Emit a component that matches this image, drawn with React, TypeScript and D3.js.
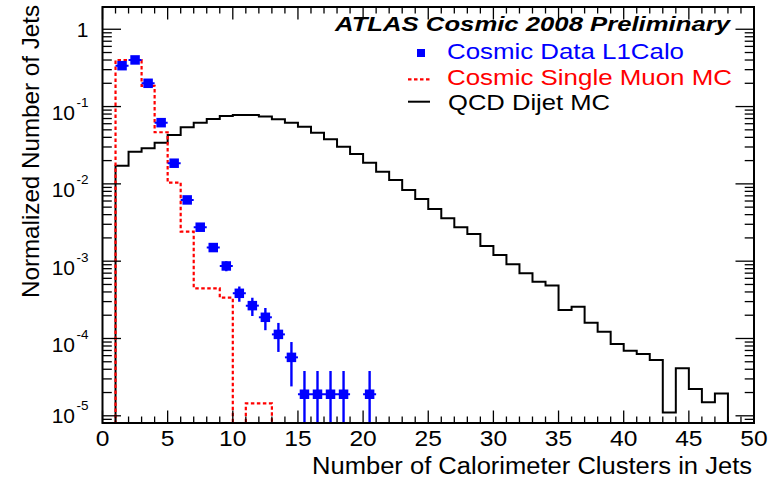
import React from "react";
import * as d3 from "d3";

const WIDTH = 783;
const HEIGHT = 481;
const FONT = "'Liberation Sans', Arial, Helvetica, sans-serif";

// Bin low edges are integers 0..49, each bin one cluster wide.
// QCD dijet MC, normalized entries per bin [i, i+1)
const qcdDijetMC = [
  0, 0.0172, 0.0261, 0.0289, 0.0341, 0.0429, 0.054, 0.0619, 0.0691, 0.0756,
  0.0779, 0.0779, 0.0745, 0.0685, 0.0619, 0.055, 0.046, 0.0378, 0.0303, 0.0244,
  0.0188, 0.0143, 0.0112, 0.00834, 0.00638, 0.00473, 0.00359, 0.00275, 0.00225, 0.00157,
  0.0012, 0.000912, 0.000697, 0.000543, 0.000485, 0.000234, 0.000258, 0.00016, 0.000122, 8.5e-5,
  6.95e-5, 6.3e-5, 5.27e-5, 1.1e-5, 4.11e-5, 2.22e-5, 1.5e-5, 1.95e-5, 0, 0,
];

// Cosmic single muon MC, bins [0,1) .. [13,14); empty beyond
const singleMuonMC = [
  0, 0.4, 0.4, 0.185, 0.0465, 0.0104, 0.00241, 0.000446, 0.000446, 0.000337,
  0, 1.45e-5, 1.45e-5, 0,
];

// Cosmic data (L1Calo trigger): bin centres, values and statistical errors
const dataCentres = [1.5, 2.5, 3.5, 4.5, 5.5, 6.5, 7.5, 8.5, 9.5, 10.5, 11.5, 12.5, 13.5, 14.5, 15.5, 16.5, 17.5, 18.5, 20.5];
const dataValues = [0.338, 0.401, 0.2, 0.0619, 0.0185, 0.0062, 0.00275, 0.0015, 0.000867, 0.000384, 0.000266, 0.000188, 0.000113, 5.7e-5, 1.9e-5, 1.9e-5, 1.9e-5, 1.9e-5, 1.9e-5];
const dataErrors = [0.00254, 0.00276, 0.00195, 0.00108, 0.00059, 0.00034, 0.00023, 0.00017, 0.000128, 8.5e-5, 7.1e-5, 6.0e-5, 4.6e-5, 3.3e-5, 1.9e-5, 1.9e-5, 1.9e-5, 1.9e-5, 1.9e-5];

const xTickLabels = ["0", "5", "10", "15", "20", "25", "30", "35", "40", "45", "50"];
const yDecades = [1, 1e-1, 1e-2, 1e-3, 1e-4, 1e-5];
const yDecadeExponents = ["0", "-1", "-2", "-3", "-4", "-5"];

const legendLabels = ["Cosmic Data L1Calo", "Cosmic Single Muon MC", "QCD Dijet MC"];

const plot = { left: 102.5, right: 754, top: 7, bottom: 423 };

const x = d3.scaleLinear().domain([0, 50]).range([plot.left, plot.right]);
const y = d3.scaleLog().domain([8.07e-6, 1.94]).range([plot.bottom, plot.top]);

const yOf = (v: number) => (v > 0 ? Math.max(plot.top, Math.min(plot.bottom, y(v))) : plot.bottom);

function stepPath(values: number[]) {
  const pts: [number, number][] = [[x(0), plot.bottom]];
  values.forEach((v, i) => {
    pts.push([x(i), yOf(v)]);
    pts.push([x(i + 1), yOf(v)]);
  });
  pts.push([x(values.length), plot.bottom]);
  return d3.line()(pts) as string;
}

export default function App() {
  const xMinor = d3.range(0, 51);
  const yAll = y.ticks();
  const yMinor = yAll.filter((t) => !yDecades.some((d) => Math.abs(t / d - 1) < 1e-6));

  return (
    <svg
      width={WIDTH}
      height={HEIGHT}
      style={{ position: "absolute", left: 0, top: 0, background: "#fff" }}
      fontFamily={FONT}
    >
      <rect width={WIDTH} height={HEIGHT} fill="#fff" />
      <defs>
        <clipPath id="plotclip">
          <rect x={plot.left} y={plot.top} width={plot.right - plot.left} height={plot.bottom - plot.top} />
        </clipPath>
      </defs>

      {/* histograms */}
      <g clipPath="url(#plotclip)">
        <path d={stepPath(qcdDijetMC)} fill="none" stroke="#000" strokeWidth={2} />
        <path d={stepPath(singleMuonMC)} fill="none" stroke="#ff0000" strokeWidth={2.2} strokeDasharray="3.5 2.5" />

        {/* data points with error bars */}
        {dataCentres.map((c, i) => {
          const v = dataValues[i];
          const e = dataErrors[i];
          const cy = y(v);
          const yHi = yOf(v + e);
          const yLo = v - e > 0 ? yOf(v - e) : plot.bottom;
          return (
            <g key={i} stroke="#0000ff" fill="#0000ff">
              <line x1={x(c - 0.5)} x2={x(c + 0.5)} y1={cy} y2={cy} strokeWidth={2} />
              <line x1={x(c)} x2={x(c)} y1={yHi} y2={yLo} strokeWidth={2.4} />
              <rect x={x(c) - 4.75} y={cy - 4.75} width={9.5} height={9.5} stroke="none" />
            </g>
          );
        })}
      </g>

      {/* frame */}
      <rect
        x={plot.left}
        y={plot.top}
        width={plot.right - plot.left}
        height={plot.bottom - plot.top}
        fill="none"
        stroke="#000"
        strokeWidth={2}
      />

      {/* x ticks, bottom and top */}
      <g stroke="#000" strokeWidth={1.3}>
        {xMinor.map((t) => {
          const len = t % 5 === 0 ? 12.5 : 6.5;
          return (
            <g key={t}>
              <line x1={x(t)} x2={x(t)} y1={plot.bottom} y2={plot.bottom - len} />
              <line x1={x(t)} x2={x(t)} y1={plot.top} y2={plot.top + len} />
            </g>
          );
        })}
        {/* y ticks, left and right */}
        {yDecades.map((t) => (
          <g key={t}>
            <line x1={plot.left} x2={plot.left + 18.5} y1={y(t)} y2={y(t)} />
            <line x1={plot.right} x2={plot.right - 18.5} y1={y(t)} y2={y(t)} />
          </g>
        ))}
        {yMinor.map((t) => (
          <g key={t}>
            <line x1={plot.left} x2={plot.left + 9.3} y1={y(t)} y2={y(t)} />
            <line x1={plot.right} x2={plot.right - 9.3} y1={y(t)} y2={y(t)} />
          </g>
        ))}
      </g>

      {/* x tick labels */}
      {xTickLabels.map((lab) => (
        <text
          key={lab}
          transform={`translate(${x(+lab)},446) scale(1.12,1)`}
          textAnchor="middle"
          fontSize={22}
          fill="#000"
        >
          {lab}
        </text>
      ))}

      {/* y tick labels */}
      {yDecades.map((t, i) => {
        const ty = y(t);
        if (t === 1) {
          return (
            <text key={t} x={88.5} y={ty + 8} textAnchor="end" fontSize={21} fill="#000">
              1
            </text>
          );
        }
        const base = t === 1e-5 ? ty + 7 : ty + 13.5;
        return (
          <text key={t} x={88.5} y={base} textAnchor="end" fill="#000">
            <tspan fontSize={21}>10</tspan>
            <tspan fontSize={13.5} dx={1.5} dy={-13}>
              {yDecadeExponents[i]}
            </tspan>
          </text>
        );
      })}

      {/* axis titles */}
      <text x={752} y={474} textAnchor="end" fontSize={23} textLength={440} lengthAdjust="spacingAndGlyphs">
        Number of Calorimeter Clusters in Jets
      </text>
      <text
        transform="translate(39,5) rotate(-90)"
        textAnchor="end"
        fontSize={24}
        textLength={293}
        lengthAdjust="spacingAndGlyphs"
      >
        Normalized Number of Jets
      </text>

      {/* title */}
      <text
        x={730}
        y={31}
        textAnchor="end"
        fontSize={20.5}
        fontWeight="bold"
        fontStyle="italic"
        textLength={395}
        lengthAdjust="spacingAndGlyphs"
      >
        ATLAS Cosmic 2008 Preliminary
      </text>

      {/* legend */}
      <rect x={417} y={49} width={8} height={8} fill="#0000ff" />
      <text x={447} y={58.5} fontSize={22.5} fill="#0000ff" textLength={237} lengthAdjust="spacingAndGlyphs">
        {legendLabels[0]}
      </text>
      <line x1={408} x2={430} y1={79.3} y2={79.3} stroke="#ff0000" strokeWidth={2.2} strokeDasharray="3.5 2.5" />
      <text x={447} y={84.5} fontSize={22.5} fill="#ff0000" textLength={285} lengthAdjust="spacingAndGlyphs">
        {legendLabels[1]}
      </text>
      <line x1={408} x2={430} y1={101.7} y2={101.7} stroke="#000" strokeWidth={2} />
      <text x={448} y={110} fontSize={22.5} fill="#000" textLength={162} lengthAdjust="spacingAndGlyphs">
        {legendLabels[2]}
      </text>
    </svg>
  );
}
